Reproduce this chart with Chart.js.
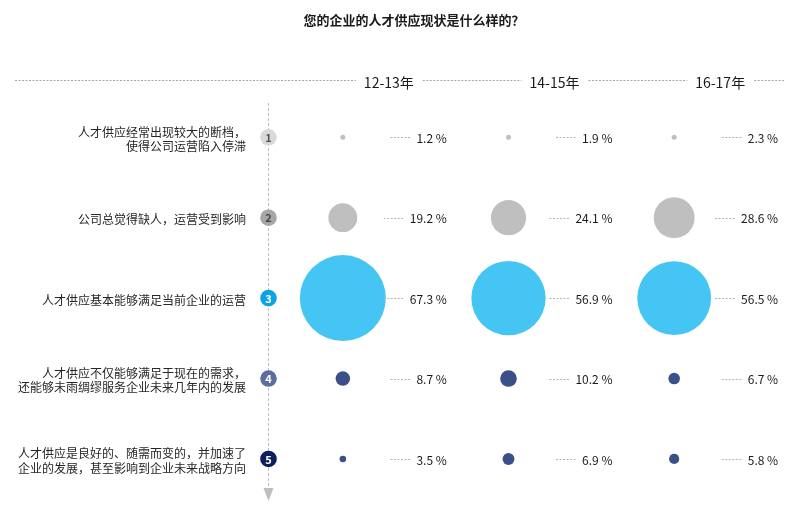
<!DOCTYPE html>
<html>
<head>
<meta charset="utf-8">
<script src="https://cdn.jsdelivr.net/npm/chart.js@4"></script>
<style>
html, body { margin: 0; padding: 0; background: #fff; }
#wrap { width: 800px; height: 508px; }
</style>
</head>
<body>
<div id="wrap"><canvas id="talentChart"></canvas></div>
<script>
var chartTitle = "您的企业的人才供应现状是什么样的？";
var periods = ["12-13年", "14-15年", "16-17年"];
var situations = [
	["人才供应经常出现较大的断档，", "使得公司运营陷入停滞"],
	["公司总觉得缺人，运营受到影响"],
	["人才供应基本能够满足当前企业的运营"],
	["人才供应不仅能够满足于现在的需求，", "还能够未雨绸缪服务企业未来几年内的发展"],
	["人才供应是良好的、随需而变的，并加速了", "企业的发展，甚至影响到企业未来战略方向"]
];
var share1213 = [1.2, 19.2, 67.3, 8.7, 3.5];
var share1415 = [1.9, 24.1, 56.9, 10.2, 6.9];
var share1617 = [2.3, 28.6, 56.5, 6.7, 5.8];

var rowColors = ["#bfbfbf", "#bfbfbf", "#44c5f4", "#3b5089", "#3b5089"];
var badgeColors = ["#d9d9d9", "#a6a6a6", "#0aa3e8", "#5b6f9d", "#0b1f5c"];
var badgeText = ["#555555", "#444444", "#ffffff", "#ffffff", "#ffffff"];
var FONT = "'Microsoft YaHei', 'Noto Sans CJK SC', sans-serif";

var byPeriod = [share1213, share1415, share1617];

// bubble size grows a bit slower than the value
function bubbleR(v) {
	return Math.max(2.5, 43 * Math.pow(v / 67.3, 0.87));
}

var datasets = situations.map(function(s, row) {
	return {
		label: s.join(""),
		backgroundColor: rowColors[row],
		borderWidth: 0,
		clip: false,
		data: byPeriod.map(function(arr, col) {
			return { x: col, y: row, r: bubbleR(arr[row]), v: arr[row] };
		})
	};
});

function dashLine(ctx, x1, y1, x2, y2) {
	ctx.beginPath();
	ctx.moveTo(x1, y1);
	ctx.lineTo(x2, y2);
	ctx.stroke();
}

var decorations = {
	id: "decorations",
	beforeDatasetsDraw: function(chart) {
		var ctx = chart.ctx;
		var xs = chart.scales.x, ys = chart.scales.y;
		ctx.save();

		// title
		ctx.fillStyle = "#1a1a1a";
		ctx.font = "bold 13px " + FONT;
		ctx.textAlign = "center";
		ctx.textBaseline = "middle";
		ctx.fillText(chartTitle, 414, 20);

		// period header with dashed rule
		ctx.font = "14px " + FONT;
		ctx.strokeStyle = "#a6a6a6";
		ctx.lineWidth = 1;
		ctx.setLineDash([2, 1.5]);
		var lineY = 80.5;
		var prev = 15;
		periods.forEach(function(p, i) {
			var cx = xs.getPixelForValue(i) + 46;
			var w = ctx.measureText(p).width;
			dashLine(ctx, prev, lineY, cx - w / 2 - 8, lineY);
			ctx.fillStyle = "#1a1a1a";
			ctx.fillText(p, cx, 83);
			prev = cx + w / 2 + 9;
		});
		dashLine(ctx, prev, lineY, 784, lineY);

		// vertical axis line with arrow
		var ax = 268.5;
		ctx.strokeStyle = "#bfbfbf";
		ctx.setLineDash([3, 2]);
		dashLine(ctx, ax, 103, ax, 490);
		ctx.setLineDash([]);
		ctx.fillStyle = "#bfbfbf";
		ctx.beginPath();
		ctx.moveTo(ax - 5, 488);
		ctx.lineTo(ax + 5, 488);
		ctx.lineTo(ax, 501);
		ctx.closePath();
		ctx.fill();

		// row badges and left labels
		situations.forEach(function(lines, row) {
			var py = ys.getPixelForValue(row);
			ctx.fillStyle = badgeColors[row];
			ctx.beginPath();
			ctx.arc(ax, py, 8.3, 0, Math.PI * 2);
			ctx.fill();
			ctx.fillStyle = badgeText[row];
			ctx.font = "bold 11px " + FONT;
			ctx.textAlign = "center";
			ctx.fillText(String(row + 1), ax, py + 0.5);

			ctx.fillStyle = "#262626";
			ctx.font = "12px " + FONT;
			ctx.textAlign = "right";
			var lh = 14.5;
			var top = py + 2 - (lines.length - 1) * lh / 2;
			lines.forEach(function(t, k) {
				ctx.fillText(t, 246, top + k * lh);
			});
		});
		ctx.restore();
	},
	afterDatasetsDraw: function(chart) {
		var ctx = chart.ctx;
		var xs = chart.scales.x, ys = chart.scales.y;
		ctx.save();
		ctx.font = "12px " + FONT;
		ctx.textAlign = "right";
		ctx.textBaseline = "middle";
		ctx.strokeStyle = "#b3b3b3";
		ctx.lineWidth = 1;
		byPeriod.forEach(function(arr, col) {
			var right = xs.getPixelForValue(col) + 104;
			arr.forEach(function(v, row) {
				var py = ys.getPixelForValue(row) + 1;
				var txt = v.toFixed(1) + " %";
				var w = ctx.measureText(txt).width;
				ctx.setLineDash([2, 1.5]);
				dashLine(ctx, right - w - 26, Math.round(py) - 0.5, right - w - 6, Math.round(py) - 0.5);
				ctx.setLineDash([]);
				ctx.fillStyle = "#1a1a1a";
				ctx.fillText(txt, right, py);
			});
		});
		ctx.restore();
	}
};

// bubble charts reserve the largest radius round the plot area,
// so the scale limits below are chosen with that in mind
new Chart("talentChart", {
	type: "bubble",
	data: { datasets: datasets },
	options: {
		responsive: true,
		maintainAspectRatio: false,
		animation: false,
		events: [],
		layout: {
			padding: { left: 260, right: 27, top: 89, bottom: 1 }
		},
		plugins: {
			legend: { display: false },
			tooltip: { enabled: false },
			title: { display: false }
		},
		scales: {
			x: { type: "linear", min: -0.5, max: 2.5, display: false },
			y: { type: "linear", min: -0.6, max: 4.075, reverse: true, display: false }
		}
	},
	plugins: [decorations]
});
</script>
</body>
</html>
